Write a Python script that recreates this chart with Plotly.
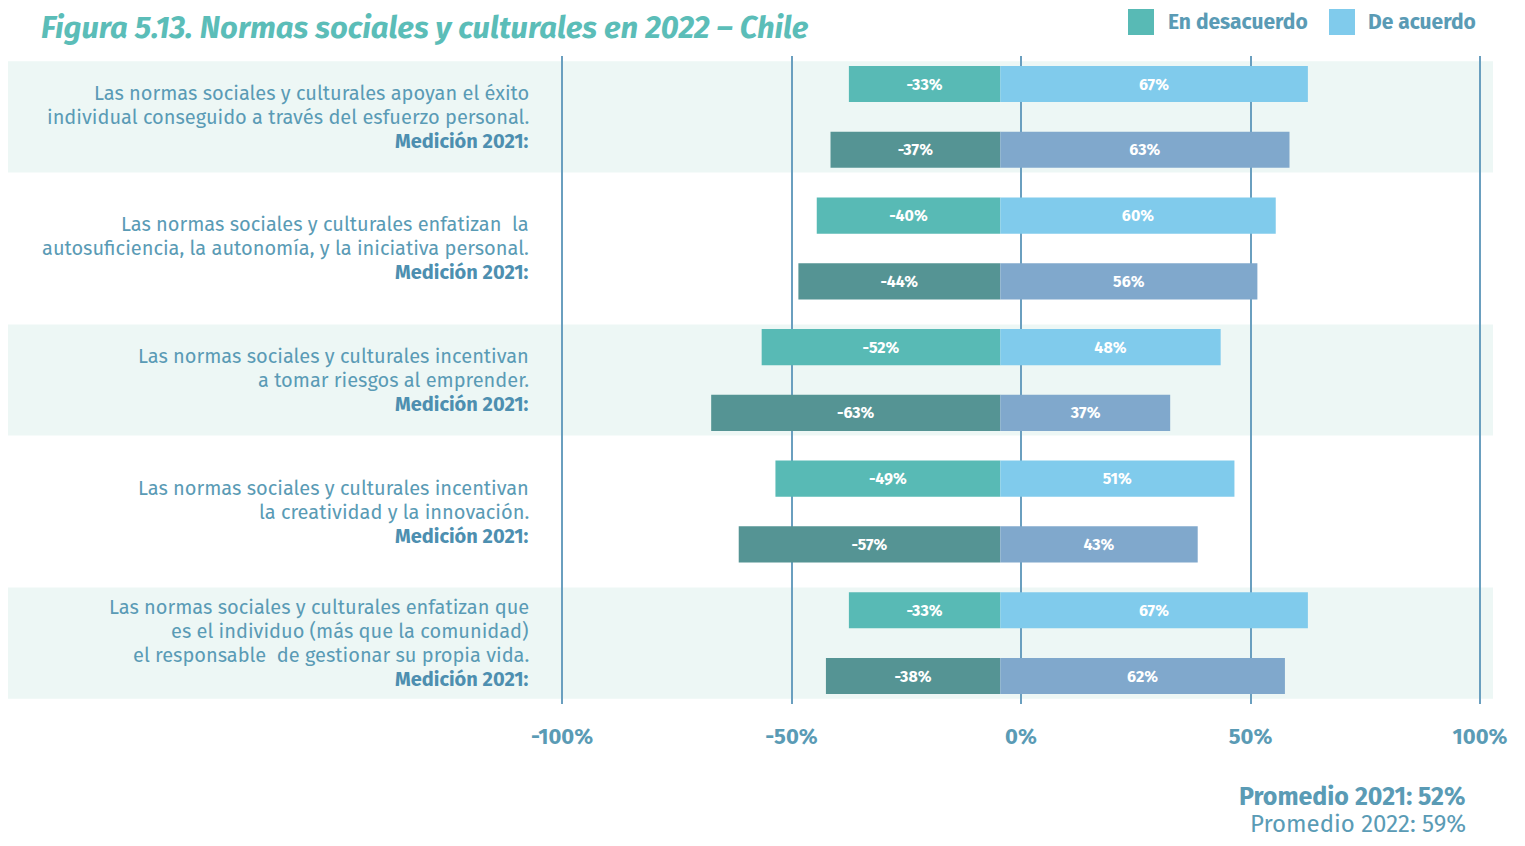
import plotly.graph_objects as go

# ---------------- data ----------------
statements = [
    ["Las normas sociales y culturales apoyan el éxito",
     "individual conseguido a través del esfuerzo personal."],
    ["Las normas sociales y culturales enfatizan  la",
     "autosuficiencia, la autonomía, y la iniciativa personal."],
    ["Las normas sociales y culturales incentivan",
     "a tomar riesgos al emprender."],
    ["Las normas sociales y culturales incentivan",
     "la creatividad y la innovación."],
    ["Las normas sociales y culturales enfatizan que",
     "es el individuo (más que la comunidad)",
     "el responsable  de gestionar su propia vida."],
]
medicion_label = "Medición 2021:"
desacuerdo_2022 = [-33, -40, -52, -49, -33]
acuerdo_2022 = [67, 60, 48, 51, 67]
desacuerdo_2021 = [-37, -44, -63, -57, -38]
acuerdo_2021 = [63, 56, 37, 43, 62]
tick_values = [-100, -50, 0, 50, 100]
tick_labels = ["-100%", "-50%", "0%", "50%", "100%"]
promedio_2021 = 52
promedio_2022 = 59

# ---------------- style ----------------
FONT = "Fira Sans, Noto Sans, sans-serif"
C_DES_22 = "#58bab5"
C_ACU_22 = "#80cbec"
C_DES_21 = "#559494"
C_ACU_21 = "#80a8cc"
C_BAND = "#edf7f5"
C_GRID = "#6a9fbf"
C_TEXT = "#5a9bb5"
C_TEXT_DARK = "#4d8fb0"
C_TITLE = "#5bbdb8"
ORIGIN = -4.5  # bars in the original start slightly left of the 0% gridline
BAR_W = 0.55

PAGE_OFF = 8            # page body margin
W, H = 1509, 830
MT = 56 - PAGE_OFF
MB = H - (704 - PAGE_OFF)
ML, MR = 0, 0
plot_h = H - MT - MB

# x mapping: -100% at page x 562, 100% at page x 1480
X_A, X_B = 562 - PAGE_OFF, 1480 - PAGE_OFF
ppu_x = (X_B - X_A) / 200.0
X_RANGE = [-100 - X_A / ppu_x, 100 + (W - X_B) / ppu_x]
# y mapping: row 0 at page y 84, row 9 at page y 676
ROW_PX = (676 - 84) / 9.0
Y0 = 84 - PAGE_OFF
Y_RANGE = [9 + (H - MB - Y0 - 9 * ROW_PX) / ROW_PX, -(Y0 - MT) / ROW_PX]

n = len(statements)
y22 = [2 * i for i in range(n)]
y21 = [2 * i + 1 for i in range(n)]

fig = go.Figure()


def add_bars(xvals, yvals, color, name):
    fig.add_trace(go.Bar(
        x=xvals, y=yvals, base=ORIGIN, orientation="h", width=BAR_W,
        marker=dict(color=color, line=dict(width=0)),
        text=[f"{v}%" for v in xvals], textposition="inside",
        insidetextanchor="middle", textangle=0,
        textfont=dict(family=FONT, size=16, color="white", weight="bold"),
        name=name, showlegend=False, hoverinfo="skip",
    ))


add_bars(desacuerdo_2022, y22, C_DES_22, "En desacuerdo 2022")
add_bars(acuerdo_2022, y22, C_ACU_22, "De acuerdo 2022")
add_bars(desacuerdo_2021, y21, C_DES_21, "En desacuerdo 2021")
add_bars(acuerdo_2021, y21, C_ACU_21, "De acuerdo 2021")

shapes = []
annotations = []


def py(page_px):
    return (H - MB - (page_px - PAGE_OFF)) / plot_h


def px(page_px):
    return (page_px - PAGE_OFF) / W


# bands behind groups 1, 3, 5
for i in range(0, n, 2):
    c = 2 * i + 0.5
    shapes.append(dict(type="rect", xref="paper", yref="y",
                       x0=px(8), x1=px(1493), y0=c - 0.844, y1=c + 0.844,
                       fillcolor=C_BAND, line=dict(width=0), layer="below"))

# statement labels, one annotation per line (24 px line pitch)
LINE_PX = 24
for i, lines in enumerate(statements):
    c = 2 * i + 0.5
    all_lines = [(l, False) for l in lines] + [(medicion_label, True)]
    k = len(all_lines)
    for j, (txt, bold) in enumerate(all_lines):
        off = (j - (k - 1) / 2.0) * LINE_PX / ROW_PX
        annotations.append(dict(
            xref="paper", yref="y", x=px(531), y=c + off, xanchor="right", yanchor="middle",
            align="right", showarrow=False,
            text=("<b>%s</b>" % txt) if bold else txt,
            font=dict(family=FONT, size=20, color=C_TEXT_DARK if bold else C_TEXT),
        ))

# title
annotations.append(dict(
    xref="paper", yref="paper", x=px(40), y=py(PAGE_OFF), xanchor="left", yanchor="top",
    showarrow=False, borderpad=0,
    text="<b><i>Figura 5.13. Normas sociales y culturales en 2022 – Chile</i></b>",
    font=dict(family=FONT, size=31, color=C_TITLE),
))

# custom legend
for (x0, label, color, tx) in [(1128, "En desacuerdo", C_DES_22, 1166), (1329, "De acuerdo", C_ACU_22, 1366)]:
    shapes.append(dict(type="rect", xref="paper", yref="paper",
                       x0=px(x0), x1=px(x0 + 26), y0=py(35), y1=py(9),
                       fillcolor=color, line=dict(width=0)))
    annotations.append(dict(
        xref="paper", yref="paper", x=px(tx), y=py(22), xanchor="left", yanchor="middle",
        showarrow=False, text="<b>%s</b>" % label,
        font=dict(family=FONT, size=21, color=C_TEXT),
    ))

# averages
annotations.append(dict(
    xref="paper", yref="paper", x=px(1468), y=py(797), xanchor="right", yanchor="middle",
    showarrow=False, text="<b>Promedio 2021: %d%%</b>" % promedio_2021,
    font=dict(family=FONT, size=25, color=C_TEXT),
))
annotations.append(dict(
    xref="paper", yref="paper", x=px(1468), y=py(824), xanchor="right", yanchor="middle",
    showarrow=False, text="Promedio 2022: %d%%" % promedio_2022,
    font=dict(family=FONT, size=24, color=C_TEXT),
))

fig.update_layout(
    width=W, height=H,
    margin=dict(l=ML, r=MR, t=MT, b=MB, pad=0),
    paper_bgcolor="white", plot_bgcolor="rgba(0,0,0,0)",
    barmode="overlay",
    showlegend=False,
    shapes=shapes, annotations=annotations,
    font=dict(family=FONT, color=C_TEXT),
    xaxis=dict(range=X_RANGE, tickvals=tick_values, ticktext=tick_labels,
               showgrid=True, gridcolor=C_GRID, gridwidth=1.5, zeroline=False,
               showline=False, ticks="", ticklabelstandoff=17,
               tickfont=dict(family=FONT, size=22, color=C_TEXT, weight="bold"),
               fixedrange=True),
    yaxis=dict(range=Y_RANGE, showgrid=False, zeroline=False, showticklabels=False,
               showline=False, ticks="", fixedrange=True),
)

fig.write_html("out.html")
